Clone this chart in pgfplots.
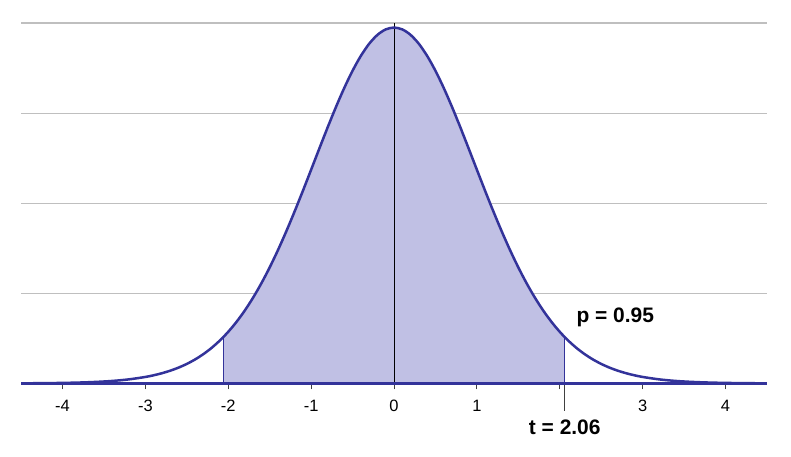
\documentclass[border=0pt]{standalone}
\usepackage{pgfplots}
\pgfplotsset{compat=1.18}
\usepackage{fontspec}
\setmainfont{Liberation Sans}
\definecolor{curve}{HTML}{33339A}
\definecolor{shade}{HTML}{C0C0E4}
\definecolor{grid}{HTML}{A8A8A8}
\begin{document}
\begin{tikzpicture}
\begin{axis}[
  scale only axis,
  width=745bp, height=360bp,
  xmin=-4.5, xmax=4.5, ymin=0, ymax=0.4,
  axis line style={draw=none},
  xtick={-4,-3,-2,-1,0,1,2,3,4},
  xticklabels={-4,-3,-2,-1,0,1,,3,4},
  xmajorgrids=false,
  extra x ticks={2.06},
  extra x tick labels={},
  extra x tick style={grid=none, major tick length=27bp, major tick style={draw=gray, line width=1.2bp}},
  ytick={0.1,0.2,0.3,0.4},
  yticklabels={},
  ymajorgrids,
  major grid style={grid, line width=1.2bp},
  ytick style={draw=none},
  xtick pos=bottom,
  tick align=outside,
  major tick length=6bp,
  xtick style={draw=black!75, line width=1bp},
  tick label style={font=\fontsize{16.5}{19}\selectfont},
  xticklabel style={yshift=-7bp},
  clip=false,
]
\addplot[fill=shade, draw=none] table {
x y
-2.06 0
-2.06 0.05145
-2.0 0.05736
-1.9 0.06840
-1.8 0.08101
-1.7 0.09527
-1.6 0.11121
-1.5 0.12882
-1.4 0.14805
-1.3 0.16876
-1.2 0.19073
-1.1 0.21365
-1.0 0.23721
-0.9 0.26094
-0.8 0.28435
-0.7 0.30688
-0.6 0.32798
-0.5 0.34705
-0.4 0.36354
-0.3 0.37694
-0.2 0.38685
-0.1 0.39292
0.0 0.39497
0.1 0.39292
0.2 0.38685
0.3 0.37694
0.4 0.36354
0.5 0.34705
0.6 0.32798
0.7 0.30688
0.8 0.28435
0.9 0.26094
1.0 0.23721
1.1 0.21365
1.2 0.19073
1.3 0.16876
1.4 0.14805
1.5 0.12882
1.6 0.11121
1.7 0.09527
1.8 0.08101
1.9 0.06840
2.0 0.05736
2.06 0.05145
2.06 0
};
\addplot[curve, line width=0.9bp] coordinates {(-2.06,0) (-2.06,0.05145)};
\addplot[curve, line width=0.9bp] coordinates {(2.06,0) (2.06,0.05145)};
\addplot[black, line width=1bp] coordinates {(0,0) (0,0.4)};
\addplot[curve, line width=2.2bp] coordinates {(-4.5,0) (4.5,0)};
\addplot[curve, line width=2.5bp, smooth] table {
x y
-4.5 0.00018
-4.25 0.00034
-4.0 0.00064
-3.8 0.00105
-3.6 0.00173
-3.4 0.00282
-3.2 0.00455
-3.0 0.00725
-2.9 0.00911
-2.8 0.01139
-2.7 0.01419
-2.6 0.01760
-2.5 0.02172
-2.4 0.02667
-2.3 0.03257
-2.2 0.03957
-2.1 0.04779
-2.0 0.05736
-1.9 0.06840
-1.8 0.08101
-1.7 0.09527
-1.6 0.11121
-1.5 0.12882
-1.4 0.14805
-1.3 0.16876
-1.2 0.19073
-1.1 0.21365
-1.0 0.23721
-0.9 0.26094
-0.8 0.28435
-0.7 0.30688
-0.6 0.32798
-0.5 0.34705
-0.4 0.36354
-0.3 0.37694
-0.2 0.38685
-0.1 0.39292
0.0 0.39497
0.1 0.39292
0.2 0.38685
0.3 0.37694
0.4 0.36354
0.5 0.34705
0.6 0.32798
0.7 0.30688
0.8 0.28435
0.9 0.26094
1.0 0.23721
1.1 0.21365
1.2 0.19073
1.3 0.16876
1.4 0.14805
1.5 0.12882
1.6 0.11121
1.7 0.09527
1.8 0.08101
1.9 0.06840
2.0 0.05736
2.1 0.04779
2.2 0.03957
2.3 0.03257
2.4 0.02667
2.5 0.02172
2.6 0.01760
2.7 0.01419
2.8 0.01139
2.9 0.00911
3.0 0.00725
3.2 0.00455
3.4 0.00282
3.6 0.00173
3.8 0.00105
4.0 0.00064
4.25 0.00034
4.5 0.00018
};
\node[anchor=west, font=\fontsize{21}{25}\selectfont\bfseries] at (axis cs:2.16,0.0733) {p = 0.95};
\node[anchor=center, font=\fontsize{21}{25}\selectfont\bfseries] at (axis cs:2.06,-0.049) {t = 2.06};
\end{axis}
\pgfresetboundingbox
\path (current axis.south west) ++(-21bp,-73bp) coordinate (bl);
\path (current axis.north east) ++(24bp,23bp) coordinate (tr);
\useasboundingbox (bl) rectangle (tr);
\end{tikzpicture}
\end{document}
